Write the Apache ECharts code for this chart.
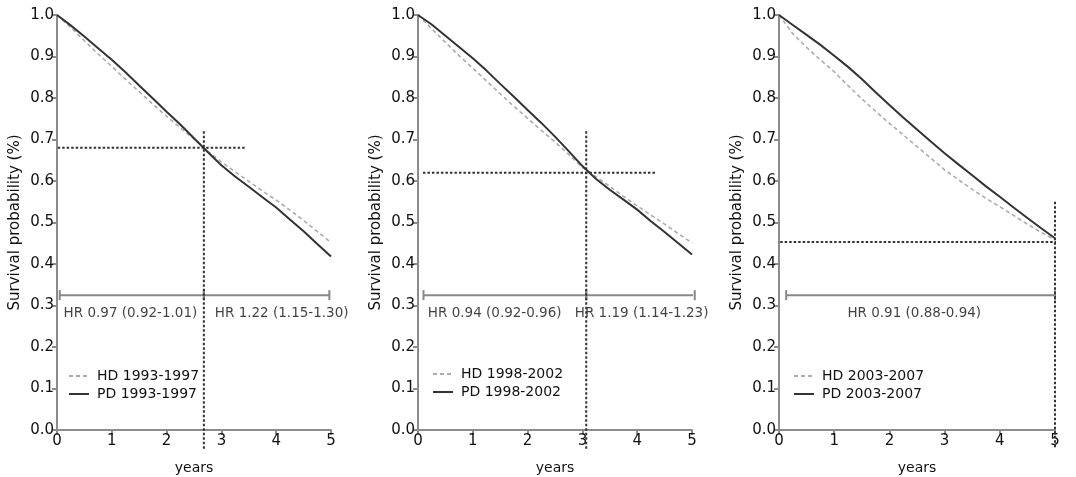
<!DOCTYPE html>
<html><head><meta charset="utf-8">
<script src="https://cdn.jsdelivr.net/npm/echarts@6/dist/echarts.min.js"></script>
<style>html,body{margin:0;padding:0;background:#fff}#c{width:1076px;height:477px}</style>
</head><body><div id="c"></div>
<script>
const years = [0,0.25,0.5,0.75,1,1.25,1.5,1.75,2,2.25,2.5,2.75,3,3.25,3.5,3.75,4,4.25,4.5,4.75,5];
const xTicks = [0,1,2,3,4,5];
const yTicks = [0,0.1,0.2,0.3,0.4,0.5,0.6,0.7,0.8,0.9,1.0];

const names = [["HD 1993-1997","PD 1993-1997"],["HD 1998-2002","PD 1998-2002"],["HD 2003-2007","PD 2003-2007"]];
const hd1 = [1.0,0.970,0.938,0.906,0.876,0.845,0.815,0.785,0.756,0.728,0.701,0.672,0.646,0.622,0.599,0.576,0.554,0.530,0.505,0.478,0.452];
const pd1 = [1.0,0.975,0.948,0.920,0.892,0.862,0.830,0.799,0.767,0.736,0.703,0.670,0.638,0.611,0.586,0.561,0.536,0.507,0.479,0.448,0.418];
const hd2 = [1.0,0.967,0.934,0.902,0.872,0.841,0.810,0.780,0.751,0.722,0.694,0.664,0.633,0.610,0.587,0.563,0.540,0.518,0.496,0.473,0.451];
const pd2 = [1.0,0.977,0.950,0.923,0.896,0.866,0.834,0.803,0.771,0.740,0.707,0.672,0.636,0.605,0.579,0.555,0.531,0.503,0.477,0.450,0.423];
const hd3 = [1.0,0.955,0.922,0.892,0.863,0.830,0.798,0.768,0.739,0.711,0.683,0.655,0.627,0.603,0.580,0.558,0.538,0.517,0.496,0.476,0.458];
const pd3 = [1.0,0.976,0.952,0.928,0.902,0.875,0.846,0.814,0.783,0.753,0.724,0.695,0.667,0.640,0.614,0.587,0.562,0.536,0.511,0.486,0.462];

// crossing reference lines: [x, yTop, yBottom], [y, xLeft, xRight]
const vLines = [[2.68,0.72,-0.045],[3.07,0.72,-0.045],[5.0,0.55,-0.045]];
const hLines = [[0.68,-0.07,3.43],[0.62,0.09,4.34],[0.453,-0.06,5.4]];
// HR bars: y level and segments
const hrY = 0.325;
const hrSegs = [[[0.05,2.68],[2.68,4.97]],[[0.1,3.07],[3.07,5.05]],[[0.13,5.0]]];
const hrTextY = 0.281;
const hrTexts = [[["HR 0.97 (0.92-1.01)",1.34],["HR 1.22 (1.15-1.30)",4.1]],[["HR 0.94 (0.92-0.96)",1.4],["HR 1.19 (1.14-1.23)",4.08]],[["HR 0.91 (0.88-0.94)",2.45]]];

const hdSets = [hd1,hd2,hd3], pdSets = [pd1,pd2,pd3];
const grids = [{left:57,width:274},{left:418,width:274},{left:779,width:276}];
const legendPos = [{left:63,top:364},{left:427,top:362},{left:788,top:364}];
const FONT = "DejaVu Sans";
const TXT = '#111';

const option = {
  animation:false,
  grid: grids.map(g=>({left:g.left,width:g.width,top:15,height:415,outerBoundsMode:'none',containLabel:false})),
  xAxis: grids.map((g,i)=>({gridIndex:i,type:'value',min:0,max:5,interval:1,
    name:'years',nameLocation:'middle',nameGap:31,nameTextStyle:{fontFamily:FONT,fontSize:14,color:TXT},
    axisLine:{lineStyle:{color:'#8c8c8c',width:2}},axisTick:{length:5,lineStyle:{color:'#8c8c8c',width:2}},
    axisLabel:{fontFamily:FONT,fontSize:15,color:TXT,margin:4,formatter:v=>xTicks.includes(v)?String(v):''},
    splitLine:{show:false}})),
  yAxis: grids.map((g,i)=>({gridIndex:i,type:'value',min:0,max:1,interval:0.1,
    name:'Survival probability (%)',nameLocation:'middle',nameGap:34,nameTextStyle:{fontFamily:FONT,fontSize:15,color:TXT},
    axisLine:{show:true,lineStyle:{color:'#8c8c8c',width:2}},axisTick:{show:true,length:5,lineStyle:{color:'#8c8c8c',width:2}},
    axisLabel:{fontFamily:FONT,fontSize:15,color:TXT,margin:3,formatter:v=>v.toFixed(1)},
    splitLine:{show:false}})),
  legend: names.map((n,i)=>({orient:'vertical',left:legendPos[i].left,top:legendPos[i].top,data:n,
    itemWidth:20,itemHeight:12,itemGap:4,itemStyle:{opacity:0},
    textStyle:{fontFamily:FONT,fontSize:14,color:TXT,padding:[0,0,0,3]}})),
  series: []
};

for (let i=0;i<3;i++){
  option.series.push({name:names[i][0],type:'line',xAxisIndex:i,yAxisIndex:i,symbol:'none',
    data:years.map((x,j)=>[x,hdSets[i][j]]),
    lineStyle:{color:'#acacac',width:1.6,type:[4,3]},itemStyle:{color:'#acacac'},z:3});
  option.series.push({name:names[i][1],type:'line',xAxisIndex:i,yAxisIndex:i,symbol:'none',
    data:years.map((x,j)=>[x,pdSets[i][j]]),
    lineStyle:{color:'#333',width:2},itemStyle:{color:'#333'},z:4});
  const v=vLines[i], h=hLines[i];
  option.series.push({type:'line',xAxisIndex:i,yAxisIndex:i,symbol:'none',clip:false,silent:true,
    data:[[v[0],v[1]],[v[0],v[2]]],lineStyle:{color:'#333',width:2,type:[2.5,2]},z:5});
  option.series.push({type:'line',xAxisIndex:i,yAxisIndex:i,symbol:'none',clip:false,silent:true,
    data:[[h[1],h[0]],[h[2],h[0]]],lineStyle:{color:'#333',width:2,type:[2.5,2]},z:5});
  hrSegs[i].forEach(s=>{
    option.series.push({type:'line',xAxisIndex:i,yAxisIndex:i,symbol:'rect',symbolSize:[2,10],showSymbol:true,clip:false,silent:true,
      data:[[s[0],hrY],[s[1],hrY]],lineStyle:{color:'#888',width:2},itemStyle:{color:'#888'},z:4});
  });
  option.series.push({type:'scatter',xAxisIndex:i,yAxisIndex:i,symbolSize:0,silent:true,clip:false,
    data:hrTexts[i].map(t=>({name:t[0],value:[t[1],hrTextY]})),
    label:{show:true,position:'inside',formatter:p=>p.name,fontFamily:FONT,fontSize:13.5,color:TXT,textBorderWidth:0}});
}

const chart = echarts.init(document.getElementById('c'),null,{renderer:'canvas'});
chart.setOption(option);
</script></body></html>
